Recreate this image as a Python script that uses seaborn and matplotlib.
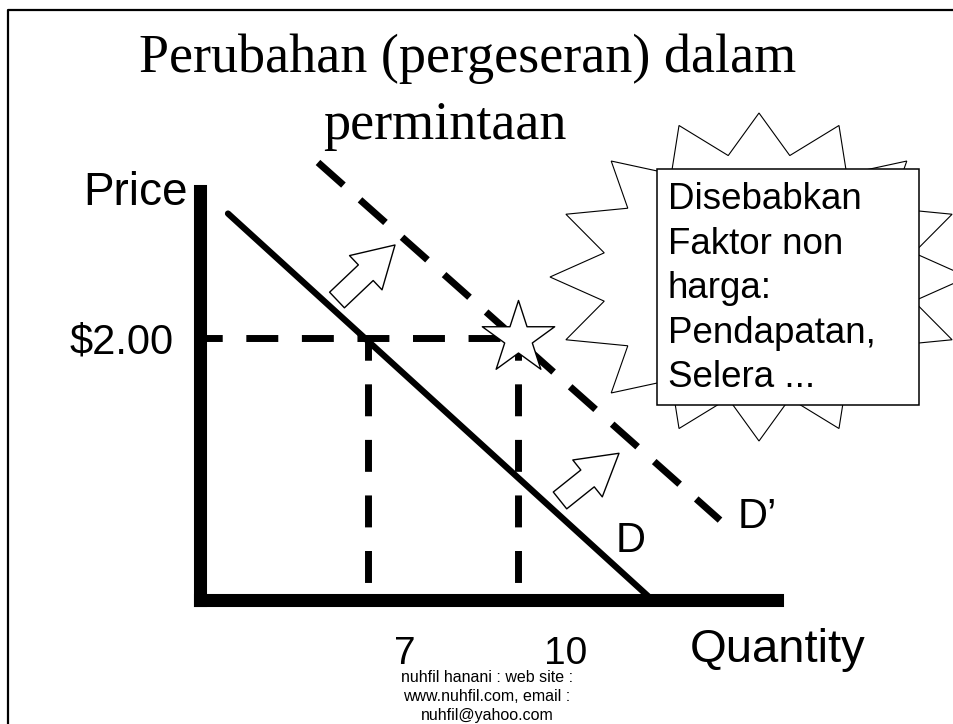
import matplotlib
matplotlib.use("Agg")
import matplotlib.pyplot as plt
import matplotlib.transforms as mtransforms
from matplotlib.patches import FancyArrowPatch, Rectangle, Polygon
import numpy as np
import seaborn as sns

# demand curves (quantity, price)
d_qty = [4.2, 12.6]
d_price = [2.95, 0.03]
d2_qty = [6.0, 14.04]
d2_price = [3.34, 0.61]

# equilibrium price and the two quantities
eq_price = 2.0
eq_qty = [7, 10]
qty_ticks = [7, 10]
qty_labels = ["7", "10"]
price_ticks = [2.0]
price_labels = ["\\$2.00"]

# shift arrows (tail -> tip) in quantity/price units
shift_tails = [(6.38, 2.29), (10.84, 0.76)]
shift_tips = [(7.54, 2.71), (12.02, 1.12)]

title_lines = ["Perubahan (pergeseran) dalam", "permintaan"]
box_lines = ["Disebabkan", "Faktor non", "harga:", "Pendapatan,", "Selera ..."]
footer_lines = ["nuhfil hanani : web site :", "www.nuhfil.com, email :", "nuhfil@yahoo.com"]

sns.set_theme(style="white", rc={"text.color": "black", "xtick.color": "black",
                                 "ytick.color": "black", "axes.labelcolor": "black"})
plt.rcParams["font.family"] = ["Liberation Sans", "DejaVu Sans"]

W, H = 954, 724
fig = plt.figure(figsize=(W / 100, H / 100), dpi=100)

# decoration layer in pixel coordinates
deco = fig.add_axes([0, 0, 1, 1], zorder=0)
deco.set_xlim(0, W)
deco.set_ylim(H, 0)
deco.axis("off")

# slide frame (cut off on the right and bottom)
deco.plot([8, 8, W + 5], [H + 5, 10, 10], color="black", lw=1.6, clip_on=False)

for txt, cx, by in zip(title_lines, [468, 445], [72, 139]):
    deco.text(cx, by, txt, ha="center", va="baseline", fontsize=39,
              family=["Liberation Serif", "DejaVu Serif"])

# burst behind the note box
n = 16
cx, cy, rx, ry = 759, 277, 209, 164
ang = np.arange(2 * n) * np.pi / n
scale = np.where(np.arange(2 * n) % 2 == 0, 1.0, 0.755)
bx = cx + rx * scale * np.sin(ang)
by = cy - ry * scale * np.cos(ang)
deco.add_patch(Polygon(np.column_stack([bx, by]), closed=True, fc="white",
                       ec="black", lw=0.8, clip_on=False))
deco.add_patch(Rectangle((657, 169), 262, 236, fc="white", ec="black", lw=1.1))
for i, line in enumerate(box_lines):
    deco.text(668, 209 + i * 44.6, line, ha="left", va="baseline", fontsize=26.5)

deco.text(83, 205, "Price", ha="left", va="baseline", fontsize=33)
deco.text(778, 662, "Quantity", ha="center", va="baseline", fontsize=34)
for i, line in enumerate(footer_lines):
    deco.text(487, 682 + i * 19, line, ha="center", va="baseline", fontsize=11.5)

# chart axes
x0, x1, yb, yt = 200, 777, 600, 191
ax = fig.add_axes([x0 / W, (H - yb) / H, (x1 - x0) / W, (yb - yt) / H], zorder=1)
ax.patch.set_alpha(0)
px_q, px_p = 50.0, 131.0
ax.set_xlim(3.64, 3.64 + (x1 - x0) / px_q)
ax.set_ylim(0, (yb - yt) / px_p)
for side in ["top", "right"]:
    ax.spines[side].set_visible(False)
for side in ["left", "bottom"]:
    ax.spines[side].set_linewidth(9.4)
    ax.spines[side].set_color("black")
    ax.spines[side].set_capstyle("projecting")

lo = ax.get_xlim()[0]
# guide lines at the equilibrium price
ax.plot([lo, eq_qty[1]], [eq_price, eq_price], color="black", lw=5,
        linestyle=(1.4, (4.6, 3.4)), solid_capstyle="butt")
for q in eq_qty:
    ax.plot([q, q], [eq_price, 0], color="black", lw=5,
            linestyle=(1.4, (4.6, 3.4)), solid_capstyle="butt")

sns.lineplot(x=d_qty, y=d_price, ax=ax, color="black", lw=4.5)
sns.lineplot(x=d2_qty, y=d2_price, ax=ax, color="black", lw=5,
             linestyle=(0, (4.9, 3.2)))
for ln in ax.lines:
    ln.set_clip_on(False)

sns.scatterplot(x=[eq_qty[1]], y=[eq_price], ax=ax, marker="*", s=3000,
                color="white", edgecolor="black", linewidth=1, zorder=5,
                clip_on=False)

for tail, tip in zip(shift_tails, shift_tips):
    ax.add_patch(FancyArrowPatch(tail, tip, arrowstyle="simple,head_length=29,head_width=34,tail_width=15.5",
                                 mutation_scale=1, fc="white", ec="black", lw=1,
                                 shrinkA=0, shrinkB=0, zorder=6, clip_on=False))

ax.text(12.26, 0.366, "D", ha="center", va="baseline", fontsize=30)
ax.text(14.4, 0.55, "D\u2019", ha="left", va="baseline", fontsize=30, clip_on=False)

ax.set_xticks(qty_ticks, labels=qty_labels, fontsize=28)
ax.set_yticks(price_ticks, labels=price_labels, fontsize=30)
ax.tick_params(axis="both", length=0)
ax.tick_params(axis="x", pad=26)
ax.tick_params(axis="y", pad=19)
shift = mtransforms.ScaledTranslation(0.26, 0, fig.dpi_scale_trans)
for lab in ax.get_xticklabels():
    lab.set_horizontalalignment("left")
    lab.set_transform(lab.get_transform() + shift)
ax.set_xlabel("")
ax.set_ylabel("")

fig.savefig("out.png", dpi=100)
